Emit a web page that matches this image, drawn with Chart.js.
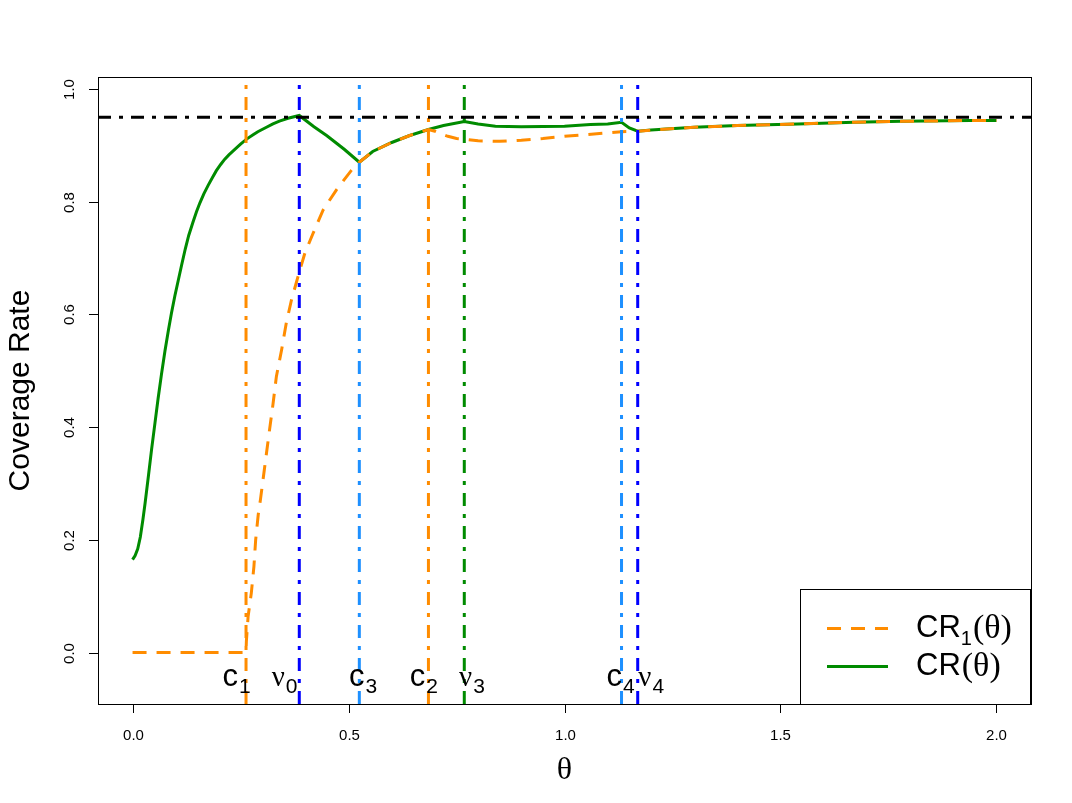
<!DOCTYPE html>
<html><head><meta charset="utf-8">
<script src="https://cdn.jsdelivr.net/npm/chart.js@4/dist/chart.umd.min.js"></script>
<style>html,body{margin:0;padding:0;background:#fff;} canvas{display:block;}</style>
</head><body>
<canvas id="c" width="1072" height="803"></canvas>
<script>
// ---- data ----
const crTheta  = [0,0.006,0.012,0.018,0.024,0.029,0.037,0.044,0.052,0.059,0.067,0.075,0.083,0.09,0.098,0.106,0.114,0.122,0.13,0.14,0.148,0.156,0.165,0.175,0.185,0.194,0.204,0.213,0.223,0.233,0.25,0.264,0.28,0.29,0.31,0.325,0.34,0.36,0.386,0.42,0.45,0.49,0.525,0.556,0.60,0.64,0.685,0.72,0.768,0.80,0.84,0.90,1.00,1.06,1.10,1.132,1.15,1.1695,1.2,1.3,1.4,1.54,1.67,1.78,1.94,2.0];
const crValues = [0.165,0.172,0.184,0.205,0.236,0.265,0.315,0.36,0.408,0.45,0.494,0.535,0.572,0.602,0.633,0.661,0.689,0.716,0.74,0.764,0.782,0.798,0.814,0.829,0.843,0.855,0.866,0.875,0.883,0.890,0.902,0.911,0.919,0.924,0.932,0.938,0.943,0.948,0.953,0.933,0.917,0.893,0.870,0.889,0.905,0.917,0.928,0.935,0.942,0.938,0.934,0.933,0.934,0.937,0.938,0.941,0.931,0.925,0.927,0.932,0.935,0.938,0.941,0.9425,0.944,0.944];
const cr1Theta  = [0,0.2627,0.2635,0.2675,0.275,0.281,0.285,0.291,0.296,0.305,0.315,0.325,0.333,0.345,0.356,0.368,0.383,0.399,0.418,0.441,0.472,0.507,0.525,0.556,0.60,0.64,0.685,0.70,0.712,0.73,0.75,0.768,0.80,0.85,0.90,0.95,1.00,1.05,1.10,1.132,1.1695,1.2,1.3,1.4,1.54,1.67,1.78,1.94,2.0];
const cr1Values = [0,0,0.02,0.064,0.106,0.153,0.2,0.245,0.271,0.324,0.383,0.44,0.49,0.537,0.585,0.626,0.667,0.709,0.744,0.785,0.821,0.856,0.870,0.889,0.905,0.917,0.928,0.925,0.921,0.916,0.912,0.911,0.908,0.907,0.909,0.912,0.916,0.919,0.922,0.924,0.925,0.927,0.932,0.935,0.938,0.941,0.9425,0.944,0.944];
const vlinePositions = [0.2627,0.386,0.525,0.685,0.768,1.132,1.1695];
const vlineMain = ['c','\u03bd','c','c','\u03bd','c','\u03bd'];
const vlineSub  = ['1','0','3','2','3','4','4'];
const vlineLabelTheta = [0.208,0.322,0.501,0.642,0.756,1.097,1.171];
const targetLevel = 0.95;
const xTicks = [0,0.5,1,1.5,2];
const xTickLabels = ['0.0','0.5','1.0','1.5','2.0'];
const yTicks = [0,0.2,0.4,0.6,0.8,1.0];
const yTickLabels = ['0.0','0.2','0.4','0.6','0.8','1.0'];

// ---- styles ----
const ORANGE='#FF8C00', BLUE='#0000FF', DODGER='#1E90FF', GREEN='#008B00';
const vlineColors = [ORANGE,BLUE,DODGER,ORANGE,GREEN,DODGER,BLUE];
const X_MIN=-0.08, X_MAX=2.08, Y_MIN=-0.0912, Y_MAX=1.0212;
const DOTDASH=[13,8,4,8];
const SANS='"Liberation Sans", Arial, sans-serif';
const SERIF='"Liberation Serif", "Times New Roman", serif';

const datasets = [];
datasets.push({label:'level', data:[{x:X_MIN,y:targetLevel},{x:X_MAX,y:targetLevel}], borderColor:'#000', borderWidth:3, borderDash:DOTDASH, borderCapStyle:'butt', pointRadius:0, order:0});
vlinePositions.forEach((v,i)=>{
  datasets.push({label:'v'+i, data:[{x:v,y:Y_MIN},{x:v,y:Y_MAX}], borderColor:vlineColors[i], borderWidth:3, borderDash:DOTDASH, borderCapStyle:'butt', pointRadius:0, order:1});
});
datasets.push({label:'CR1', data:cr1Theta.map((t,i)=>({x:t,y:cr1Values[i]})), borderColor:ORANGE, borderWidth:3, borderDash:[14,10], borderCapStyle:'butt', pointRadius:0, order:2});
datasets.push({label:'CR', data:crTheta.map((t,i)=>({x:t,y:crValues[i]})), borderColor:GREEN, borderWidth:3, pointRadius:0, order:3});

const rPlot = {
  id:'rplot',
  afterDraw(chart){
    const ctx=chart.ctx, ca=chart.chartArea, xs=chart.scales.x, ys=chart.scales.y;
    ctx.save();
    ctx.strokeStyle='#000'; ctx.lineWidth=1; ctx.setLineDash([]);
    ctx.strokeRect(Math.round(ca.left)+0.5, Math.round(ca.top)+0.5, Math.round(ca.right-ca.left), Math.round(ca.bottom-ca.top));
    // x ticks
    ctx.fillStyle='#000';
    ctx.font='15px '+SANS; ctx.textAlign='center'; ctx.textBaseline='alphabetic';
    xTicks.forEach((t,i)=>{
      const px=Math.round(xs.getPixelForValue(t))+0.5;
      ctx.beginPath(); ctx.moveTo(px, ca.bottom); ctx.lineTo(px, ca.bottom+9); ctx.stroke();
      ctx.fillText(xTickLabels[i], px, 740);
    });
    // y ticks
    yTicks.forEach((t,i)=>{
      const py=Math.round(ys.getPixelForValue(t))+0.5;
      ctx.beginPath(); ctx.moveTo(ca.left, py); ctx.lineTo(ca.left-9, py); ctx.stroke();
      ctx.save(); ctx.translate(74, py); ctx.rotate(-Math.PI/2);
      ctx.textAlign='center'; ctx.fillText(yTickLabels[i],0,0); ctx.restore();
    });
    // axis titles
    ctx.font='32px '+SERIF; ctx.textAlign='center';
    ctx.fillText('\u03b8', (ca.left+ca.right)/2, 779);
    ctx.save(); ctx.translate(29,(ca.top+ca.bottom)/2); ctx.rotate(-Math.PI/2);
    ctx.font='30px '+SANS; ctx.textAlign='center'; ctx.fillText('Coverage Rate',0,0); ctx.restore();
    // vline labels
    const base=ys.getPixelForValue(-0.06);
    ctx.textAlign='left';
    vlineMain.forEach((m,i)=>{
      const x=xs.getPixelForValue(vlineLabelTheta[i]);
      const greek = m!=='c';
      ctx.font=(greek?'29px ':'31px ')+(greek?SERIF:SANS);
      ctx.fillText(m, x, base);
      const w=ctx.measureText(m).width;
      ctx.font='21px '+SANS;
      ctx.fillText(vlineSub[i], x+w+1, base+7);
    });
    // legend
    ctx.fillStyle='#fff'; ctx.fillRect(800,589,231,115); ctx.fillStyle='#000';
    ctx.strokeRect(800.5,589.5,230,115);
    ctx.lineWidth=3; ctx.lineCap='butt';
    ctx.strokeStyle=ORANGE; ctx.setLineDash([14,10]);
    ctx.beginPath(); ctx.moveTo(827,628.5); ctx.lineTo(888,628.5); ctx.stroke();
    ctx.strokeStyle=GREEN; ctx.setLineDash([]);
    ctx.beginPath(); ctx.moveTo(827,666.5); ctx.lineTo(888,666.5); ctx.stroke();
    ctx.fillStyle='#000';
    let x=916;
    ctx.font='31px '+SANS; ctx.fillText('CR',x,637); x+=ctx.measureText('CR').width;
    ctx.font='20px '+SANS; ctx.fillText('1',x,645); x+=ctx.measureText('1').width;
    ctx.font='34px '+SERIF; ctx.fillText('(\u03b8)',x+1,638);
    x=916;
    ctx.font='31px '+SANS; ctx.fillText('CR',x,675); x+=ctx.measureText('CR').width;
    ctx.font='34px '+SERIF; ctx.fillText('(\u03b8)',x+1,676);
    ctx.restore();
  }
};

new Chart(document.getElementById('c'), {
  type:'line',
  data:{datasets},
  options:{
    responsive:false, animation:false, devicePixelRatio:1,
    layout:{padding:{left:98,right:41,top:77,bottom:99}},
    plugins:{legend:{display:false}, tooltip:{enabled:false}},
    elements:{line:{tension:0}},
    scales:{
      x:{type:'linear', min:X_MIN, max:X_MAX, display:false},
      y:{type:'linear', min:Y_MIN, max:Y_MAX, display:false}
    }
  },
  plugins:[rPlot]
});
</script>
</body></html>
